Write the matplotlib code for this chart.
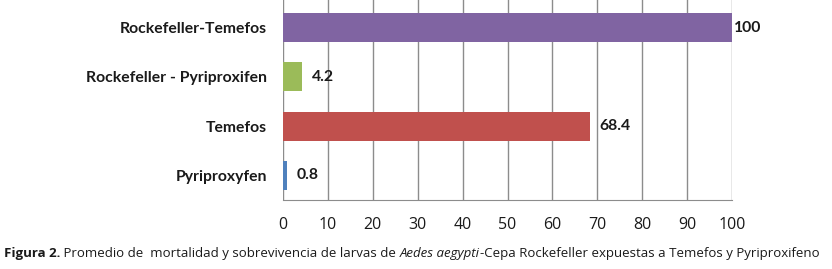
import matplotlib
matplotlib.use("Agg")
import matplotlib.pyplot as plt

categories = ["Pyriproxyfen", "Temefos", "Rockefeller - Pyriproxifen", "Rockefeller-Temefos"]
values = [0.8, 68.4, 4.2, 100]
value_labels = ["0.8", "68.4", "4.2", "100"]
colors = ["#4F81BD", "#C0504D", "#9BBB59", "#8064A2"]
xticks = list(range(0, 101, 10))

caption_parts = [
    ("Figura 2.", "bold", "normal"),
    (" Promedio de  mortalidad y sobrevivencia de larvas de ", "normal", "normal"),
    ("Aedes aegypti", "normal", "italic"),
    ("-Cepa Rockefeller expuestas a Temefos y Pyriproxifeno", "normal", "normal"),
]

fig = plt.figure(figsize=(8.32, 2.69), dpi=100)
ax = fig.add_axes([283/832, (269-200)/269, (732-283)/832, 200/269])

grid_c = "#8c8c8c"
ax.set_xlim(0, 100)
ax.set_ylim(-0.5, 3.56)
ax.set_xticks(xticks)
ax.xaxis.grid(True, color=grid_c, linewidth=1)
ax.set_axisbelow(True)
ax.barh(range(len(categories)), values, height=0.59, color=colors, zorder=3)

for i, (v, lab) in enumerate(zip(values, value_labels)):
    off = 1.5 if v >= 100 else 7
    ax.annotate(lab, (v, i), xytext=(off, 0), textcoords="offset points",
                ha="left", va="center", fontsize=11.3, fontweight="bold",
                family="Lato", color="#1a1a1a")

ax.set_yticks(range(len(categories)))
ax.set_yticklabels(categories, fontsize=11.3, fontweight="bold", family="Lato", color="#1a1a1a")
ax.tick_params(axis="y", length=0, pad=11.5)
ax.tick_params(axis="x", length=0, pad=12.5, labelsize=11.5, colors="#1a1a1a")
for t in ax.get_xticklabels():
    t.set_family("Open Sans")
for s in ["top", "right", "left"]:
    ax.spines[s].set_visible(False)
ax.spines["bottom"].set_color(grid_c)

# caption, pieces laid out one after another
fig.canvas.draw()
r = fig.canvas.get_renderer()
x = 4 / 832
for txt, w, st in caption_parts:
    t = fig.text(x, (269-254)/269, txt, fontsize=9.55, fontweight=w, fontstyle=st,
                 family="Open Sans", va="center", ha="left", color="#1a1a1a")
    bb = t.get_window_extent(renderer=r)
    x += bb.width / fig.bbox.width

fig.savefig("out.png", dpi=100)
